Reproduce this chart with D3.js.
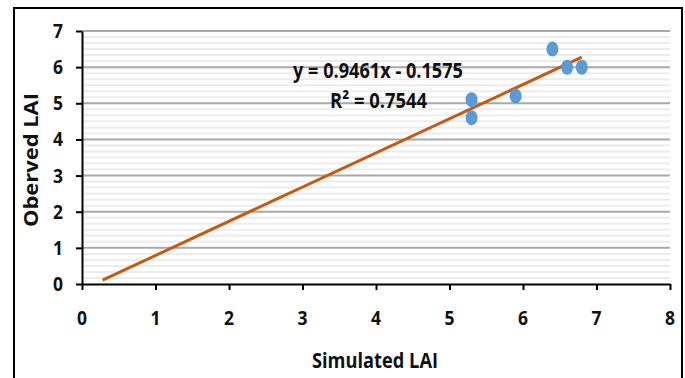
<!DOCTYPE html>
<html><head><meta charset="utf-8">
<script src="https://cdn.jsdelivr.net/npm/d3@7"></script>
<style>
html,body{margin:0;padding:0;background:#fff;}
text{font-family:"Open Sans","Liberation Sans",sans-serif;font-weight:bold;fill:#111;}
</style></head>
<body>
<svg id="c" width="685" height="378"></svg>
<script>
// Data
const simulated = [5.3, 5.3, 5.9, 6.4, 6.6, 6.8];
const observed  = [5.1, 4.6, 5.2, 6.5, 6.0, 6.0];
const trendSlope = 0.9461;
const trendIntercept = -0.1575;
const trendRange = [0.28, 6.8];
const xTicks = [0,1,2,3,4,5,6,7,8];
const yTicks = [0,1,2,3,4,5,6,7];
const equationLabel = "y = 0.9461x - 0.1575";
const r2Label = "R² = 0.7544";
const xTitle = "Simulated LAI";
const yTitle = "Oberved LAI";

(function(){
const svg = d3.select("#c");
const pL = 82, pR = 670, pT = 31, pB = 284;
const x = d3.scaleLinear().domain([0,8]).range([pL,pR]);
const y = d3.scaleLinear().domain([0,7]).range([pB,pT]);

// outer frame
svg.append("rect").attr("x",14).attr("y",8).attr("width",668).attr("height",400)
  .attr("fill","none").attr("stroke","#000").attr("stroke-width",2);

// minor gridlines
const minor = d3.range(0, 7*6+1).map(i => i/6).filter(v => Math.abs(v - Math.round(v)) > 1e-6);
svg.append("g").selectAll("line").data(minor).join("line")
  .attr("x1",pL).attr("x2",pR).attr("y1",d=>y(d)).attr("y2",d=>y(d))
  .attr("stroke","#ececec").attr("stroke-width",2);
// major gridlines
svg.append("g").selectAll("line").data(yTicks.filter(d=>d>0)).join("line")
  .attr("x1",pL).attr("x2",pR).attr("y1",d=>y(d)).attr("y2",d=>y(d))
  .attr("stroke","#a9a9a9").attr("stroke-width",2);

// axes
const xAxis = svg.append("g").attr("transform",`translate(0,${pB})`)
  .call(d3.axisBottom(x).tickValues(xTicks).tickSize(6).tickSizeOuter(0).tickFormat(""));
const yAxis = svg.append("g").attr("transform",`translate(${pL},0)`)
  .call(d3.axisLeft(y).tickValues(yTicks).tickSize(6).tickSizeOuter(0).tickFormat(""));
[xAxis,yAxis].forEach(g=>{
  g.selectAll("path,line").attr("stroke","#000").attr("stroke-width",2);
});

// tick labels
svg.append("g").selectAll("text").data(xTicks).join("text")
  .attr("x",d=>x(d)).attr("y",pB+41).attr("text-anchor","middle")
  .attr("font-size",20).attr("textLength",10).attr("lengthAdjust","spacingAndGlyphs")
  .text(d=>d);
svg.append("g").selectAll("text").data(yTicks).join("text")
  .attr("x",63).attr("y",d=>y(d)+7).attr("text-anchor","end")
  .attr("font-size",20).attr("textLength",10).attr("lengthAdjust","spacingAndGlyphs")
  .text(d=>d);

// trendline
svg.append("line")
  .attr("x1",x(trendRange[0])).attr("y1",y(trendSlope*trendRange[0]+trendIntercept))
  .attr("x2",x(trendRange[1])).attr("y2",y(trendSlope*trendRange[1]+trendIntercept))
  .attr("stroke","#c55a11").attr("stroke-width",3);

// points
svg.append("g").selectAll("ellipse").data(simulated.map((s,i)=>[s,observed[i]])).join("ellipse")
  .attr("cx",d=>x(d[0])).attr("cy",d=>y(d[1])).attr("rx",6).attr("ry",7.5)
  .attr("fill","#5b9bd5");

// equation labels
svg.append("text").attr("x",293).attr("y",78).attr("font-size",21)
  .attr("textLength",170).attr("lengthAdjust","spacingAndGlyphs").text(equationLabel);
svg.append("text").attr("x",330).attr("y",108).attr("font-size",21)
  .attr("textLength",97).attr("lengthAdjust","spacingAndGlyphs").text(r2Label);

// axis titles
svg.append("text").attr("x",312).attr("y",368).attr("font-size",21)
  .attr("textLength",126).attr("lengthAdjust","spacingAndGlyphs").text(xTitle);
svg.append("text").attr("transform","translate(38,227) rotate(-90)").attr("font-size",20)
  .attr("textLength",134).attr("lengthAdjust","spacingAndGlyphs").text(yTitle);
})();
</script>
</body></html>
